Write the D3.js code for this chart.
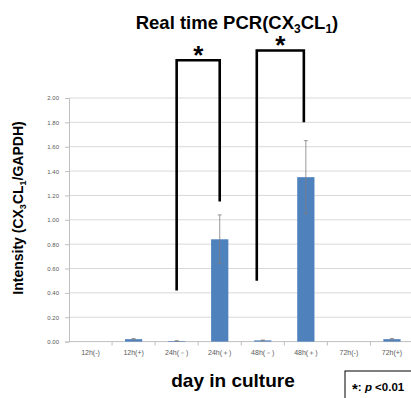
<!DOCTYPE html>
<html>
<head>
<meta charset="utf-8">
<title>Real time PCR</title>
<script src="https://cdnjs.cloudflare.com/ajax/libs/d3/7.8.5/d3.min.js"></script>
<style>
    body { margin: 0; background: #fff; }
    svg { display: block; font-family: "Liberation Sans", Arial, sans-serif; }
</style>
</head>
<body>
<div id="chart"></div>
<script>
    // data
    const categories = ["12h(-)", "12h(+)", "24h(\uFF0D)", "24h(\uFF0B)", "48h(\uFF0D)", "48h(\uFF0B)", "72h(-)", "72h(+)"];
    const values = [0, 0.02, 0.005, 0.84, 0.01, 1.35, 0, 0.02];
    const errors = [0, 0.005, 0.002, 0.20, 0.003, 0.30, 0, 0.005];
    const yTicks = [0, 0.2, 0.4, 0.6, 0.8, 1.0, 1.2, 1.4, 1.6, 1.8, 2.0];
    // significance brackets: ends in data units
    const brackets = [
        {from: "24h(\uFF0D)", to: "24h(\uFF0B)", leftEnd: 0.42, rightEnd: 1.15, top: 2.31},
        {from: "48h(\uFF0D)", to: "48h(\uFF0B)", leftEnd: 0.50, rightEnd: 1.80, top: 2.39}
    ];

    const W = 411, H = 398;
    const svg = d3.select("#chart").append("svg")
        .attr("width", W).attr("height", H);

    const x = d3.scaleBand()
        .domain(categories)
        .range([69, 413.5])
        .paddingInner(0.6)
        .paddingOuter(0.3);
    const step = x.step();
    const cx = c => x(c) + x.bandwidth() / 2;

    const y = d3.scaleLinear()
        .domain([0, 2])
        .range([341.6, 98]);

    // gridlines
    svg.append("g")
        .selectAll("line")
        .data(yTicks.slice(1))
        .join("line")
        .attr("x1", 69).attr("x2", W)
        .attr("y1", d => y(d)).attr("y2", d => y(d))
        .attr("stroke", "#d9d9d9").attr("stroke-width", 1);

    // y axis
    const yAxis = svg.append("g")
        .attr("transform", "translate(69,0)")
        .call(d3.axisLeft(y).tickValues(yTicks).tickFormat(d3.format(".2f")).tickSize(4).tickPadding(6));
    yAxis.select(".domain").attr("stroke", "#bfbfbf");
    yAxis.selectAll(".tick line").attr("stroke", "#bfbfbf");
    yAxis.selectAll("text").attr("font-size", 6).attr("fill", "#595959");

    // x axis baseline + tick marks between categories
    svg.append("line")
        .attr("x1", 69).attr("x2", W)
        .attr("y1", y(0)).attr("y2", y(0))
        .attr("stroke", "#bfbfbf");
    svg.append("g")
        .selectAll("line")
        .data(categories.slice(1))
        .join("line")
        .attr("x1", d => cx(d) - step / 2).attr("x2", d => cx(d) - step / 2)
        .attr("y1", y(0)).attr("y2", y(0) + 4)
        .attr("stroke", "#bfbfbf");
    svg.append("g")
        .selectAll("text")
        .data(categories)
        .join("text")
        .attr("x", d => cx(d))
        .attr("y", y(0) + 13)
        .attr("text-anchor", "middle")
        .attr("font-size", 7)
        .attr("fill", "#595959")
        .text(d => d);

    // bars
    svg.append("g")
        .selectAll("rect")
        .data(categories)
        .join("rect")
        .attr("x", d => x(d))
        .attr("width", x.bandwidth())
        .attr("y", (d, i) => y(values[i]))
        .attr("height", (d, i) => y(0) - y(values[i]))
        .attr("fill", "#4f81bd");

    // error bars
    const eb = svg.append("g").attr("stroke", "#7f7f7f").attr("stroke-width", 0.8);
    categories.forEach((c, i) => {
        if (!values[i]) return;
        const lo = y(values[i] - errors[i]), hi = y(values[i] + errors[i]);
        eb.append("line").attr("x1", cx(c)).attr("x2", cx(c)).attr("y1", lo).attr("y2", hi);
        eb.append("line").attr("x1", cx(c) - 2).attr("x2", cx(c) + 2).attr("y1", lo).attr("y2", lo);
        eb.append("line").attr("x1", cx(c) - 2).attr("x2", cx(c) + 2).attr("y1", hi).attr("y2", hi);
    });

    // significance brackets
    brackets.forEach((b, i) => {
        const x1 = cx(b.from) - (i === 1 ? 6 : 0), x2 = cx(b.to) - (i === 1 ? 2 : 0);
        svg.append("path")
            .attr("d", `M${x1},${y(b.leftEnd)}V${y(b.top)}H${x2}V${y(b.rightEnd)}`)
            .attr("fill", "none")
            .attr("stroke", "#000")
            .attr("stroke-width", 2.6);
        svg.append("text")
            .attr("x", (x1 + x2) / 2)
            .attr("y", y(b.top) + 4)
            .attr("text-anchor", "middle")
            .attr("font-size", 26)
            .attr("font-weight", "bold")
            .text("*");
    });

    // title
    const title = svg.append("text")
        .attr("x", 237).attr("y", 29)
        .attr("text-anchor", "middle")
        .attr("font-size", 18.5)
        .attr("font-weight", "bold");
    title.append("tspan").text("Real time PCR(CX");
    title.append("tspan").attr("font-size", 12).attr("dy", 4).text("3");
    title.append("tspan").attr("dy", -4).text("CL");
    title.append("tspan").attr("font-size", 12).attr("dy", 4).text("1");
    title.append("tspan").attr("dy", -4).text(")");

    // y title
    const yt = svg.append("text")
        .attr("transform", "translate(23,208) rotate(-90)")
        .attr("text-anchor", "middle")
        .attr("font-size", 14)
        .attr("font-weight", "bold");
    yt.append("tspan").text("Intensity  (CX");
    yt.append("tspan").attr("font-size", 9).attr("dy", 3).text("3");
    yt.append("tspan").attr("dy", -3).text("CL");
    yt.append("tspan").attr("font-size", 9).attr("dy", 3).text("1");
    yt.append("tspan").attr("dy", -3).text("/GAPDH)");

    // x title
    svg.append("text")
        .attr("x", 233).attr("y", 387)
        .attr("text-anchor", "middle")
        .attr("font-size", 19)
        .attr("font-weight", "bold")
        .text("day in culture");

    // p-value legend
    svg.append("rect")
        .attr("x", 345).attr("y", 371)
        .attr("width", 80).attr("height", 40)
        .attr("fill", "#fff").attr("stroke", "#000").attr("stroke-width", 1);
    const lg = svg.append("text")
        .attr("x", 352).attr("y", 391)
        .attr("font-size", 11.5)
        .attr("font-weight", "bold");
    lg.append("tspan").attr("font-size", 15).attr("dy", 3).text("*");
    lg.append("tspan").attr("dy", -3).text(": ");
    lg.append("tspan").attr("font-style", "italic").text("p");
    lg.append("tspan").text(" <0.01");
</script>
</body>
</html>
